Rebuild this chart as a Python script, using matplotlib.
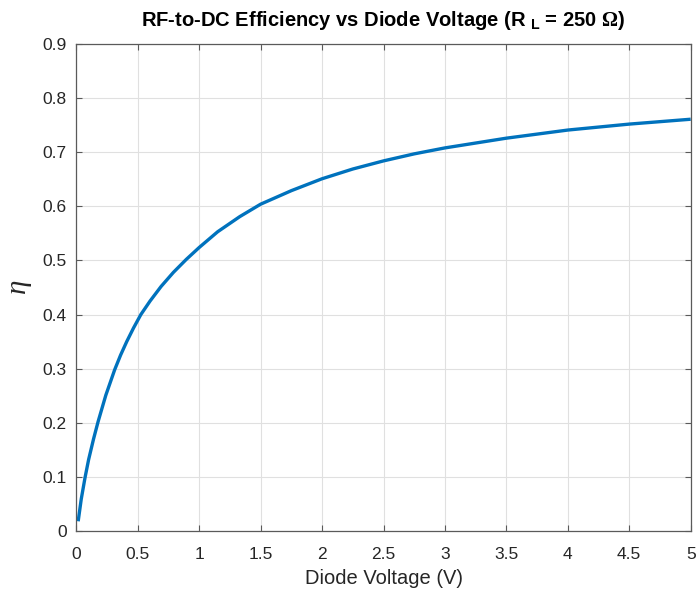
import numpy as np
import matplotlib
matplotlib.use("Agg")
import matplotlib.pyplot as plt

plt.rcParams['font.family'] = ['Liberation Sans', 'DejaVu Sans']
plt.rcParams['mathtext.fontset'] = 'custom'
plt.rcParams['mathtext.rm'] = 'Liberation Serif:bold'
plt.rcParams['mathtext.it'] = 'Liberation Serif:italic'
plt.rcParams['mathtext.bf'] = 'Liberation Sans:bold'

# values
voltage = [0.015, 0.040, 0.071, 0.100, 0.140, 0.177, 0.240, 0.312, 0.360,
           0.410, 0.465, 0.525, 0.600, 0.690, 0.790, 0.895, 1.00, 1.15,
           1.33, 1.50, 1.75, 2.00, 2.25, 2.50, 2.75, 3.00, 3.50, 4.00,
           4.50, 5.00]
efficiency = [0.018, 0.059, 0.099, 0.132, 0.170, 0.202, 0.251, 0.298, 0.325,
              0.350, 0.375, 0.400, 0.425, 0.452, 0.478, 0.502, 0.524, 0.553,
              0.581, 0.604, 0.629, 0.651, 0.669, 0.684, 0.697, 0.708, 0.726,
              0.741, 0.752, 0.761]

xticks = np.arange(0, 5.01, 0.5)
xticklabels = ['0', '0.5', '1', '1.5', '2', '2.5', '3', '3.5', '4', '4.5', '5']
yticks = np.arange(0, 0.91, 0.1)
yticklabels = ['0', '0.1', '0.2', '0.3', '0.4', '0.5', '0.6', '0.7', '0.8', '0.9']

fig = plt.figure(figsize=(6.99, 5.98), dpi=100)
ax = fig.add_axes([0.1092, 0.1120, 0.8789, 0.8144])

ax.plot(voltage, efficiency, color='#0072BD', linewidth=2.4,
        solid_capstyle='butt', solid_joinstyle='round')

ax.set_xlim(0, 5)
ax.set_ylim(0, 0.9)
ax.set_xticks(xticks)
ax.set_xticklabels(xticklabels)
ax.set_yticks(yticks)
ax.set_yticklabels(yticklabels)

ax.grid(True, color='#e0e0e0', linewidth=0.8)
ax.set_axisbelow(True)
for s in ax.spines.values():
    s.set_color('#5a5a5a')
    s.set_linewidth(0.9)
ax.tick_params(direction='in', length=4, width=0.8, colors='#5a5a5a',
               labelcolor='#262626', labelsize=12.5,
               top=True, right=True)
ax.tick_params(axis='x', pad=11.5)
ax.tick_params(axis='y', pad=7)

ax.set_xlabel('Diode Voltage (V)', fontsize=14.5, color='#262626', labelpad=5)
ax.set_ylabel(r'$\eta$', fontsize=21, color='#262626', labelpad=6)
ax.set_title(r'RF-to-DC Efficiency vs Diode Voltage (R $_\mathbf{L}$ = 250 $\Omega$)',
             fontsize=14.5, fontweight='bold', pad=13)

fig.savefig('out.png', dpi=100)
